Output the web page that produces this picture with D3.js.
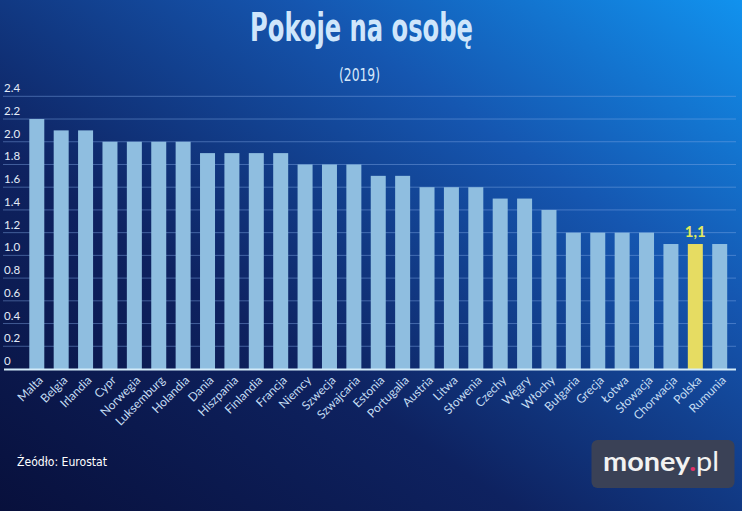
<!DOCTYPE html>
<html><head><meta charset="utf-8">
<script src="https://cdn.jsdelivr.net/npm/d3@7"></script>
<style>html,body{margin:0;padding:0;background:#0c1a50;}svg{display:block;}</style>
</head><body>
<script>
const categories = ["Malta","Belgia","Irlandia","Cypr","Norwegia","Luksemburg","Holandia","Dania","Hiszpania","Finlandia","Francja","Niemcy","Szwecja","Szwajcaria","Estonia","Portugalia","Austria","Litwa","Słowenia","Czechy","Węgry","Włochy","Bułgaria","Grecja","Łotwa","Słowacja","Chorwacja","Polska","Rumunia"];
const values = [2.2,2.1,2.1,2.0,2.0,2.0,2.0,1.9,1.9,1.9,1.9,1.8,1.8,1.8,1.7,1.7,1.6,1.6,1.6,1.5,1.5,1.4,1.2,1.2,1.2,1.2,1.1,1.1,1.1];
const tickValues = [0,0.2,0.4,0.6,0.8,1.0,1.2,1.4,1.6,1.8,2.0,2.2,2.4];
const tickLabels = ["0","0.2","0.4","0.6","0.8","1.0","1.2","1.4","1.6","1.8","2.0","2.2","2.4"];
const highlight = "Polska";
const highlightLabel = "1,1";
const title = "Pokoje na osobę";
const subtitle = "(2019)";
const source = "Źeódło:  Eurostat";

const W = 742, H = 511;
const svg = d3.select("body").append("svg").attr("width", W).attr("height", H);
const defs = svg.append("defs");
const g = defs.append("linearGradient").attr("id","bg").attr("x1","0").attr("y1","1").attr("x2","1").attr("y2","0");
g.append("stop").attr("offset","0").attr("stop-color","#08103c");
g.append("stop").attr("offset","0.35").attr("stop-color","#0e2260");
g.append("stop").attr("offset","0.7").attr("stop-color","#1556b0");
g.append("stop").attr("offset","1").attr("stop-color","#1192ee");
svg.append("rect").attr("width",W).attr("height",H).attr("fill","url(#bg)");

const x = d3.scaleBand().domain(categories).range([24.6, 731.9]).paddingInner(0.385).paddingOuter(0.1925);
const y = d3.scaleLinear().domain([0, 2.4]).range([369, 96.3]);
const labelFont = "Lato, 'Open Sans', sans-serif";
const condFont = "'DejaVu Sans Condensed', 'DejaVu Sans', sans-serif";

// gridlines
svg.append("g").selectAll("line").data(tickValues.slice(1)).join("line")
  .attr("x1", 3).attr("x2", 736)
  .attr("y1", d => y(d)).attr("y2", d => y(d))
  .attr("stroke", "rgba(130,170,230,0.45)").attr("stroke-width", 1);

// y tick labels
svg.append("g").selectAll("text").data(tickValues).join("text")
  .attr("x", 4).attr("y", d => y(d) - 4)
  .attr("fill", "#e4ecf8").attr("font-family", labelFont).attr("font-size", 11.5)
  .text((d,i) => tickLabels[i]);

// bars
svg.append("g").selectAll("rect").data(categories).join("rect")
  .attr("x", d => x(d)).attr("width", x.bandwidth())
  .attr("y", (d,i) => y(values[i])).attr("height", (d,i) => y(0) - y(values[i]))
  .attr("fill", d => d === highlight ? "#e6dc62" : "#8fbee0");

// baseline
svg.append("line").attr("x1", 4).attr("x2", 736).attr("y1", 369.5).attr("y2", 369.5)
  .attr("stroke", "#d4ecfa").attr("stroke-width", 2);

// x labels
svg.append("g").selectAll("text").data(categories).join("text")
  .attr("transform", d => `translate(${x(d) + x.bandwidth()/2 + 4},${378}) rotate(-45)`)
  .attr("text-anchor", "end").attr("dy", "0.35em")
  .attr("fill", "#c4dcf2").attr("font-family", labelFont).attr("font-size", 12)
  .text(d => d);

// highlight label
const hi = categories.indexOf(highlight);
svg.append("text").attr("x", x(highlight) + x.bandwidth()/2).attr("y", y(values[hi]) - 7)
  .attr("text-anchor", "middle").attr("fill", "#e2ea5c")
  .attr("font-family", labelFont).attr("font-weight", "bold").attr("font-size", 15)
  .text(highlightLabel);

// title
svg.append("text").attr("x", 361.5).attr("y", 41).attr("text-anchor", "middle")
  .attr("fill", "#cfe6fb").attr("font-family", condFont).attr("font-stretch", "condensed")
  .attr("font-weight", "bold").attr("font-size", 39)
  .attr("textLength", 223).attr("lengthAdjust", "spacingAndGlyphs").text(title);
svg.append("text").attr("x", 359.5).attr("y", 81).attr("text-anchor", "middle")
  .attr("fill", "#d6e8fa").attr("font-family", condFont).attr("font-stretch", "condensed")
  .attr("font-size", 17).attr("textLength", 41).attr("lengthAdjust", "spacingAndGlyphs").text(subtitle);

// source
svg.append("text").attr("x", 17).attr("y", 466)
  .attr("fill", "#ffffff").attr("font-family", condFont).attr("font-stretch", "condensed")
  .attr("font-size", 11.5).attr("textLength", 90).attr("lengthAdjust", "spacingAndGlyphs").text(source);

// logo
const logo = svg.append("g");
logo.append("rect").attr("x", 591.5).attr("y", 440).attr("width", 143).attr("height", 48).attr("rx", 6)
  .attr("fill", "#3a4156");
const lt = logo.append("text").attr("x", 603).attr("y", 471)
  .attr("font-family", labelFont).attr("font-size", 26).attr("font-weight", "bold").attr("fill", "#f2f2f2")
  .attr("textLength", 116).attr("lengthAdjust", "spacingAndGlyphs");
lt.append("tspan").text("money");
lt.append("tspan").attr("fill", "#e2306a").text(".");
lt.append("tspan").attr("font-weight", "normal").text("pl");
</script>
</body></html>
